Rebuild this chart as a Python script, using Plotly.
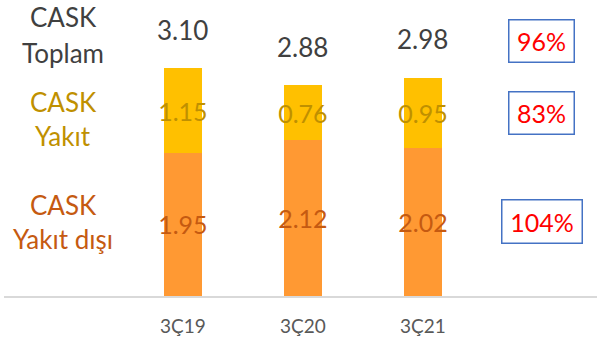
import plotly.graph_objects as go

categories = ["3Ç19", "3Ç20", "3Ç21"]
cask_yakit_disi = [1.95, 2.12, 2.02]
cask_yakit = [1.15, 0.76, 0.95]
cask_toplam = [3.10, 2.88, 2.98]
row_labels = [["CASK", "Toplam"], ["CASK", "Yakıt"], ["CASK", "Yakıt dışı"]]
change_pct = ["96%", "83%", "104%"]

W, H = 597, 342
ML, MR, MT, MB = 4, 0, 0, 46
PW, PH = W - ML - MR, H - MT - MB

def px(x):
    return (x - ML) / PW

def py(y):
    return 1 - (y - MT) / PH

FONT = "Lato"
C_ORANGE = "#FF9933"
C_YELLOW = "#FFC000"
T_ORANGE = "#C55A11"
T_YELLOW = "#BF9000"
T_GRAY = "#404040"

fig = go.Figure()
fig.add_bar(
    x=categories, y=cask_yakit_disi, marker_color=C_ORANGE, marker_line_width=0,
    width=0.317,
    text=[f"{v:.2f}" for v in cask_yakit_disi], textposition="inside",
    insidetextanchor="middle", textangle=0, constraintext="none",
    textfont=dict(family=FONT, size=25, color=T_ORANGE), hoverinfo="skip",
)
fig.add_bar(
    x=categories, y=cask_yakit, marker_color=C_YELLOW, marker_line_width=0,
    width=0.317,
    text=[f"{v:.2f}" for v in cask_yakit], textposition="inside",
    insidetextanchor="middle", textangle=0, constraintext="none",
    textfont=dict(family=FONT, size=25, color=T_YELLOW), hoverinfo="skip",
)

annotations = []
for c, t in zip(categories, cask_toplam):
    annotations.append(dict(
        x=c, y=t, xref="x", yref="y", text=f"{t:.2f}", showarrow=False,
        yanchor="middle", yshift=38,
        font=dict(family=FONT, size=26, color=T_GRAY),
    ))

label_colors = [T_GRAY, T_YELLOW, T_ORANGE]
label_y = [(17, 53), (101.7, 136), (204.5, 239)]
for lines, col, ys in zip(row_labels, label_colors, label_y):
    for line, yy in zip(lines, ys):
        annotations.append(dict(
            x=px(63), y=py(yy), xref="paper", yref="paper", text=line,
            showarrow=False, xanchor="center", yanchor="middle",
            font=dict(family=FONT, size=26, color=col),
        ))

box_geo = [(541.5, 41, 64, 41), (541.5, 113, 64, 41), (542, 221.5, 79, 42)]
for txt, (bx, by, bw, bh) in zip(change_pct, box_geo):
    annotations.append(dict(
        x=px(bx), y=py(by), xref="paper", yref="paper", text=txt,
        showarrow=False, xanchor="center", yanchor="middle",
        width=bw, height=bh, borderpad=0, borderwidth=1.5,
        bordercolor="#4472C4", bgcolor="white",
        font=dict(family=FONT, size=25, color="#FF0000"),
    ))

fig.update_layout(
    width=W, height=H, barmode="stack", showlegend=False,
    margin=dict(l=ML, r=MR, t=MT, b=MB),
    paper_bgcolor="white", plot_bgcolor="white",
    annotations=annotations,
    xaxis=dict(
        type="category", range=[-1.49, 3.45], showgrid=False, zeroline=False,
        showline=True, linecolor="#D9D9D9", linewidth=2,
        ticks="", ticklabelstandoff=12,
        tickfont=dict(family=FONT, size=19, color="#595959"),
    ),
    yaxis=dict(range=[0, PH / 73.4], visible=False, showgrid=False),
)

fig.write_html("out.html")
